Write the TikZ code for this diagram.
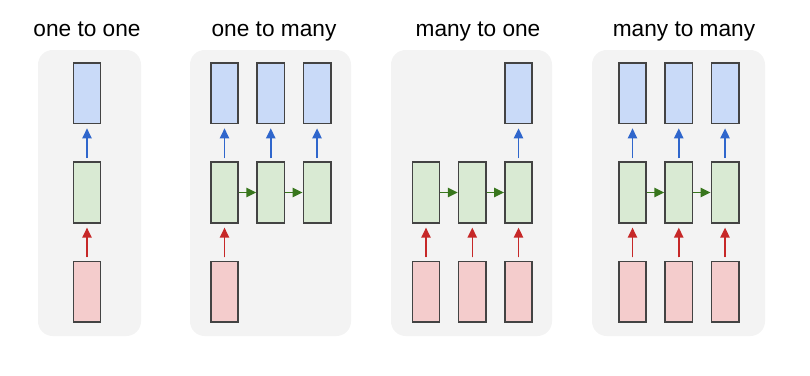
\documentclass[tikz,border=0pt]{standalone}
\usepackage{fontspec}
\setmainfont{Liberation Sans}
\usepackage{xcolor}
\definecolor{cPanel}{HTML}{F3F3F3}
\definecolor{cEdge}{HTML}{434343}
\definecolor{cIn}{HTML}{F4CCCC}
\definecolor{cHid}{HTML}{D9EAD3}
\definecolor{cOut}{HTML}{C9DAF8}
\definecolor{cArrIn}{HTML}{C62828}
\definecolor{cArrHid}{HTML}{38761D}
\definecolor{cArrOut}{HTML}{2F66CC}
\usetikzlibrary{positioning,arrows.meta}
\tikzset{
  rnn-panel/.style={fill=cPanel,rounded corners=11pt},
  rnn-cell/.style={draw=cEdge,line width=1.2pt,minimum width=20.5pt,
    minimum height=45.5pt,inner sep=0pt},
  rnn-in/.style={rnn-cell,fill=cIn},
  rnn-hid/.style={rnn-cell,fill=cHid},
  rnn-out/.style={rnn-cell,fill=cOut},
  arrow-in/.style={-{Triangle[length=7.5pt,width=7pt]},line width=1.1pt,
    draw=cArrIn,fill=cArrIn,shorten <=2.5pt,shorten >=3pt},
  arrow-out/.style={-{Triangle[length=7.5pt,width=7pt]},line width=1.1pt,
    draw=cArrOut,fill=cArrOut,shorten <=2.5pt,shorten >=3pt},
  arrow-hid/.style={-{Triangle[length=7.5pt,width=7pt]},line width=1.1pt,
    draw=cArrHid,fill=cArrHid},
  panel-title/.style={font=\fontsize{17}{20}\selectfont,anchor=base},
}

\begin{document}
\begin{tikzpicture}[x=0.75pt,y=-0.75pt,node distance=27.75pt and 13pt]
  \useasboundingbox (0,0) rectangle (810,375);
  % panels
  \fill[rnn-panel] (38,50) rectangle (141,336);
  \fill[rnn-panel] (190,50) rectangle (351,336);
  \fill[rnn-panel] (391,50) rectangle (552,336);
  \fill[rnn-panel] (592,50) rectangle (765,336);
  % titles
  \node[panel-title] (t-oo) at (87,36)  {one to one};
  \node[panel-title] (t-om) at (274,36) {one to many};
  \node[panel-title] (t-mo) at (478,36) {many to one};
  \node[panel-title] (t-mm) at (684,36) {many to many};

  % one to one
  \node[rnn-hid] (oo-h) at (87,192.5) {};
  \node[rnn-out,above=of oo-h] (oo-y) {};
  \node[rnn-in,below=of oo-h] (oo-x) {};
  \draw[arrow-in] (oo-x) -- (oo-h);
  \draw[arrow-out] (oo-h) -- (oo-y);

  % one to many
  \node[rnn-hid] (om-h1) at (224.5,192.5) {};
  \node[rnn-hid,right=of om-h1] (om-h2) {};
  \node[rnn-hid,right=of om-h2] (om-h3) {};
  \node[rnn-out,above=of om-h1] (om-y1) {};
  \node[rnn-out,above=of om-h2] (om-y2) {};
  \node[rnn-out,above=of om-h3] (om-y3) {};
  \node[rnn-in,below=of om-h1] (om-x1) {};
  \draw[arrow-in] (om-x1) -- (om-h1);
  \draw[arrow-hid] (om-h1) -- (om-h2);
  \draw[arrow-hid] (om-h2) -- (om-h3);
  \draw[arrow-out] (om-h1) -- (om-y1);
  \draw[arrow-out] (om-h2) -- (om-y2);
  \draw[arrow-out] (om-h3) -- (om-y3);

  % many to one
  \node[rnn-hid] (mo-h1) at (426,192.5) {};
  \node[rnn-hid,right=of mo-h1] (mo-h2) {};
  \node[rnn-hid,right=of mo-h2] (mo-h3) {};
  \node[rnn-out,above=of mo-h3] (mo-y3) {};
  \node[rnn-in,below=of mo-h1] (mo-x1) {};
  \node[rnn-in,below=of mo-h2] (mo-x2) {};
  \node[rnn-in,below=of mo-h3] (mo-x3) {};
  \draw[arrow-in] (mo-x1) -- (mo-h1);
  \draw[arrow-in] (mo-x2) -- (mo-h2);
  \draw[arrow-in] (mo-x3) -- (mo-h3);
  \draw[arrow-hid] (mo-h1) -- (mo-h2);
  \draw[arrow-hid] (mo-h2) -- (mo-h3);
  \draw[arrow-out] (mo-h3) -- (mo-y3);

  % many to many
  \node[rnn-hid] (mm-h1) at (632.5,192.5) {};
  \node[rnn-hid,right=of mm-h1] (mm-h2) {};
  \node[rnn-hid,right=of mm-h2] (mm-h3) {};
  \node[rnn-out,above=of mm-h1] (mm-y1) {};
  \node[rnn-out,above=of mm-h2] (mm-y2) {};
  \node[rnn-out,above=of mm-h3] (mm-y3) {};
  \node[rnn-in,below=of mm-h1] (mm-x1) {};
  \node[rnn-in,below=of mm-h2] (mm-x2) {};
  \node[rnn-in,below=of mm-h3] (mm-x3) {};
  \draw[arrow-in] (mm-x1) -- (mm-h1);
  \draw[arrow-in] (mm-x2) -- (mm-h2);
  \draw[arrow-in] (mm-x3) -- (mm-h3);
  \draw[arrow-hid] (mm-h1) -- (mm-h2);
  \draw[arrow-hid] (mm-h2) -- (mm-h3);
  \draw[arrow-out] (mm-h1) -- (mm-y1);
  \draw[arrow-out] (mm-h2) -- (mm-y2);
  \draw[arrow-out] (mm-h3) -- (mm-y3);
\end{tikzpicture}
\end{document}
